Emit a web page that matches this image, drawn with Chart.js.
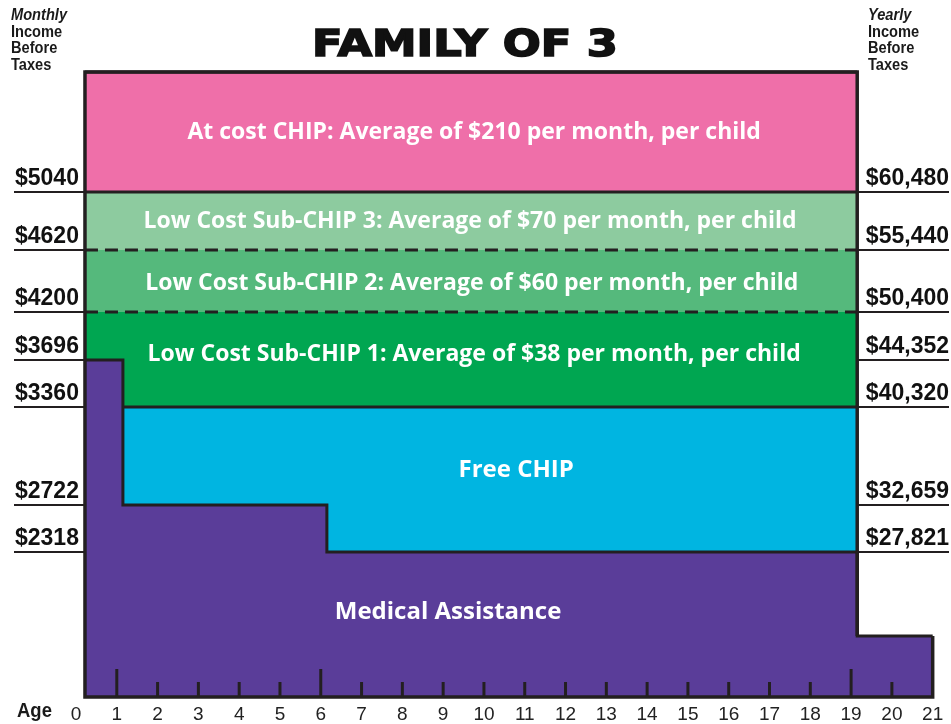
<!DOCTYPE html>
<html>
<head>
<meta charset="utf-8">
<script src="https://cdn.jsdelivr.net/npm/chart.js@4.4.1/dist/chart.umd.min.js"></script>
<style>
  html, body { margin: 0; padding: 0; background: #ffffff; }
  #wrap { width: 951px; height: 724px; position: relative; }
</style>
</head>
<body>
<div id="wrap"><canvas id="c"></canvas></div>
<script>
// ---------------- DATA ----------------
const chartTitle = 'FAMILY OF 3';
const ageTicks = [0,1,2,3,4,5,6,7,8,9,10,11,12,13,14,15,16,17,18,19,20,21];
const majorAges = [1, 6, 19];
const incomeLevels = [2318, 2722, 3360, 3696, 4200, 4620, 5040];
const monthlyLabels = ['$2318', '$2722', '$3360', '$3696', '$4200', '$4620', '$5040'];
const yearlyLabels = ['$27,821', '$32,659', '$40,320', '$44,352', '$50,400', '$55,440', '$60,480'];
const topValue = 6000;            // open-ended top of "At cost" band
const boxAges = [0.22, 19.15];    // age span of the CHIP box
// Medical Assistance upper limit (monthly $) by age step
const maAges   = [0.22, 1.15, 1.15, 6.15, 6.15, 19.15, 19.15, 21];
const maLimits = [3696, 3696, 2722, 2722, 2318, 2318, 975, 975];
// CHIP bands: name and upper monthly limit
const bandNames = [
  'Free CHIP',
  'Low Cost Sub-CHIP 1: Average of $38 per month, per child',
  'Low Cost Sub-CHIP 2: Average of $60 per month, per child',
  'Low Cost Sub-CHIP 3: Average of $70 per month, per child',
  'At cost CHIP: Average of $210 per month, per child'
];
const bandUpper = [3360, 4200, 4620, 5040, topValue];
const maName = 'Medical Assistance';
const leftCaption = ['Monthly', 'Income', 'Before', 'Taxes'];
const rightCaption = ['Yearly', 'Income', 'Before', 'Taxes'];
const axisName = 'Age';

// ---------------- STYLE / LAYOUT ----------------
const bandColors = ['#00B5E1', '#00A651', '#55B97C', '#8DCB9F', '#EF6FA9'];
const bandDash = [[], [13, 7], [13, 7], [], []];
const maColor = '#5A3D99';
const ink = '#231F20';
// non-linear schematic mapping of the income axis: [value, fraction of height]
const KNOTS = [[0,0],[2318,0.232],[2722,0.3072],[3360,0.464],[3696,0.5392],[4200,0.616],[4620,0.7152],[5040,0.808],[6000,1]];
// label anchors in (age, $) coordinates: index 0 = Medical Assistance, then bands
const labelAnchors = [[9.12,1359],[10.79,2950],[9.76,3750],[9.7,4396],[9.66,4830],[9.76,5520]];
const labelSizes = [24, 24, 23, 23, 23, 23];

function toDec(v){
  if (v <= KNOTS[0][0]) return KNOTS[0][1];
  for (let i=1;i<KNOTS.length;i++){
    const [v1,d1]=KNOTS[i-1],[v2,d2]=KNOTS[i];
    if (v <= v2) return d1 + (v - v1)/(v2 - v1)*(d2 - d1);
  }
  const n=KNOTS.length; const [v1,d1]=KNOTS[n-2],[v2,d2]=KNOTS[n-1];
  return d1 + (v - v1)/(v2 - v1)*(d2 - d1);
}
function fromDec(d){
  for (let i=1;i<KNOTS.length;i++){
    const [v1,d1]=KNOTS[i-1],[v2,d2]=KNOTS[i];
    if (d <= d2) return v1 + (d - d1)/(d2 - d1)*(v2 - v1);
  }
  return KNOTS[KNOTS.length-1][0];
}
class PiecewiseScale extends Chart.LinearScale {
  getPixelForValue(value){
    if (value === null || value === undefined || isNaN(value)) return NaN;
    return this.getPixelForDecimal(toDec(value));
  }
  getValueForPixel(pixel){ return fromDec(this.getDecimalForPixel(pixel)); }
}
PiecewiseScale.id = 'piecewise';
PiecewiseScale.defaults = Chart.LinearScale.defaults;
Chart.register(PiecewiseScale);

// ---------------- DATASETS ----------------
const datasets = [];
// 0: frame outline (on top)
datasets.push({
  label: 'frame',
  data: [
    {x: 21, y: maLimits[maLimits.length-1]}, {x: 21, y: 0},
    {x: boxAges[0], y: 0}, {x: boxAges[0], y: topValue},
    {x: boxAges[1], y: topValue}, {x: boxAges[1], y: maLimits[maLimits.length-1]}
  ],
  borderColor: ink, borderWidth: 3.5, fill: false, pointRadius: 0, clip: false,
  borderJoinStyle: 'miter', tension: 0
});
// 1: Medical Assistance
datasets.push({
  label: maName,
  data: maAges.map((a,i)=>({x:a, y:maLimits[i]})),
  borderColor: ink, borderWidth: 3, backgroundColor: maColor,
  fill: 'origin', pointRadius: 0, clip: false, borderJoinStyle: 'miter', tension: 0
});
// 2..6: CHIP bands
bandNames.forEach((name, i) => {
  datasets.push({
    label: name,
    data: [{x: boxAges[0], y: bandUpper[i]}, {x: boxAges[1], y: bandUpper[i]}],
    borderColor: ink, borderWidth: 3, borderDash: bandDash[i],
    backgroundColor: bandColors[i], fill: 'origin', pointRadius: 0, clip: false, tension: 0
  });
});

// ---------------- PLUGIN: texts & inner ticks ----------------
const narrowText = (ctx, text, x, y, sx) => {
  ctx.save(); ctx.translate(x, y); ctx.scale(sx, 1); ctx.fillText(text, 0, 0); ctx.restore();
};
const decorPlugin = {
  id: 'decor',
  afterDatasetsDraw(chart){
    const ctx = chart.ctx, xs = chart.scales.x, ys = chart.scales.y, ca = chart.chartArea;
    ctx.save();
    // inner age tick marks
    ctx.strokeStyle = ink; ctx.lineWidth = 3;
    ageTicks.forEach(a => {
      if (a <= boxAges[0] || a >= 21) return;
      const x = xs.getPixelForValue(a);
      const h = majorAges.includes(a) ? 28 : 15;
      ctx.beginPath(); ctx.moveTo(x, ca.bottom); ctx.lineTo(x, ca.bottom - h); ctx.stroke();
    });
    // region labels
    ctx.fillStyle = '#FFFFFF';
    ctx.textAlign = 'center'; ctx.textBaseline = 'middle';
    const names = [maName].concat(bandNames);
    names.forEach((n, i) => {
      const [ax, ay] = labelAnchors[i];
      ctx.font = 'bold ' + labelSizes[i] + 'px "Open Sans", "Liberation Sans", sans-serif';
      ctx.fillText(n, xs.getPixelForValue(ax), ys.getPixelForValue(ay));
    });
    ctx.restore();
  },
  afterDraw(chart){
    const ctx = chart.ctx, ca = chart.chartArea;
    ctx.save();
    // title
    ctx.fillStyle = '#111'; ctx.strokeStyle = '#111';
    ctx.textAlign = 'center'; ctx.textBaseline = 'middle';
    ctx.font = 'bold 37px "DejaVu Sans", sans-serif';
    const tw = ctx.measureText(chartTitle).width;
    ctx.save();
    ctx.translate(465, 46); ctx.scale(306 / tw, 1);
    ctx.lineWidth = 1.6; ctx.lineJoin = 'miter';
    ctx.fillText(chartTitle, 0, 0); ctx.strokeText(chartTitle, 0, 0);
    ctx.restore();
    // corner captions
    ctx.fillStyle = '#1a1a1a';
    ctx.textAlign = 'left'; ctx.textBaseline = 'alphabetic';
    const fam = '"Liberation Sans", Arial, sans-serif';
    const base = [20, 37, 53, 70];
    leftCaption.forEach((t, i) => {
      ctx.font = (i === 0 ? 'italic bold 17px ' : 'bold 17px ') + fam;
      narrowText(ctx, t, 11, base[i], 0.86);
    });
    rightCaption.forEach((t, i) => {
      ctx.font = (i === 0 ? 'italic bold 17px ' : 'bold 17px ') + fam;
      narrowText(ctx, t, ca.right - 81, base[i], 0.86);
    });
    // Age label
    ctx.font = 'bold 21px ' + fam;
    ctx.textAlign = 'left'; ctx.textBaseline = 'middle';
    narrowText(ctx, axisName, 17, ca.bottom + 14, 0.88);
    ctx.restore();
  }
};

// ---------------- CHART ----------------
const labelFont = {family: '"Liberation Sans", Arial, sans-serif', size: 23, weight: 'bold'};
new Chart(document.getElementById('c'), {
  type: 'line',
  data: { datasets },
  options: {
    responsive: true, maintainAspectRatio: false, animation: false,
    layout: { padding: { top: 72, left: 0, right: 0, bottom: 0 } },
    elements: { line: { borderCapStyle: 'butt' } },
    plugins: {
      legend: { display: false },
      tooltip: { enabled: false },
      title: { display: false }
    },
    scales: {
      x: {
        type: 'linear', min: 0, max: 21.4,
        afterBuildTicks: s => { s.ticks = ageTicks.map(v => ({value: v})); },
        afterFit: s => { s.height = 27; },
        grid: { display: false }, border: { display: false },
        ticks: {
          color: '#222', padding: -2, maxRotation: 0, autoSkip: false,
          font: { family: '"Liberation Sans", Arial, sans-serif', size: 19 },
          callback: v => String(v)
        }
      },
      y: {
        type: 'piecewise', position: 'left', min: 0, max: topValue,
        afterBuildTicks: s => { s.ticks = incomeLevels.map(v => ({value: v})); },
        afterFit: s => { s.width = 76; },
        border: { display: false },
        grid: { color: ink, lineWidth: 2, drawOnChartArea: true, drawTicks: true, tickLength: 62 },
        ticks: {
          color: '#111', font: labelFont, mirror: true, padding: -61, labelOffset: -13, autoSkip: false,
          callback: (v, i) => monthlyLabels[i]
        }
      },
      y2: {
        type: 'piecewise', position: 'right', min: 0, max: topValue,
        afterBuildTicks: s => { s.ticks = incomeLevels.map(v => ({value: v})); },
        afterFit: s => { s.width = 2; },
        border: { display: false },
        grid: { display: false, drawTicks: false },
        ticks: {
          color: '#111', font: labelFont, mirror: true, padding: 0, labelOffset: -13, autoSkip: false,
          callback: (v, i) => yearlyLabels[i]
        }
      }
    }
  },
  plugins: [decorPlugin]
});
</script>
</body>
</html>
